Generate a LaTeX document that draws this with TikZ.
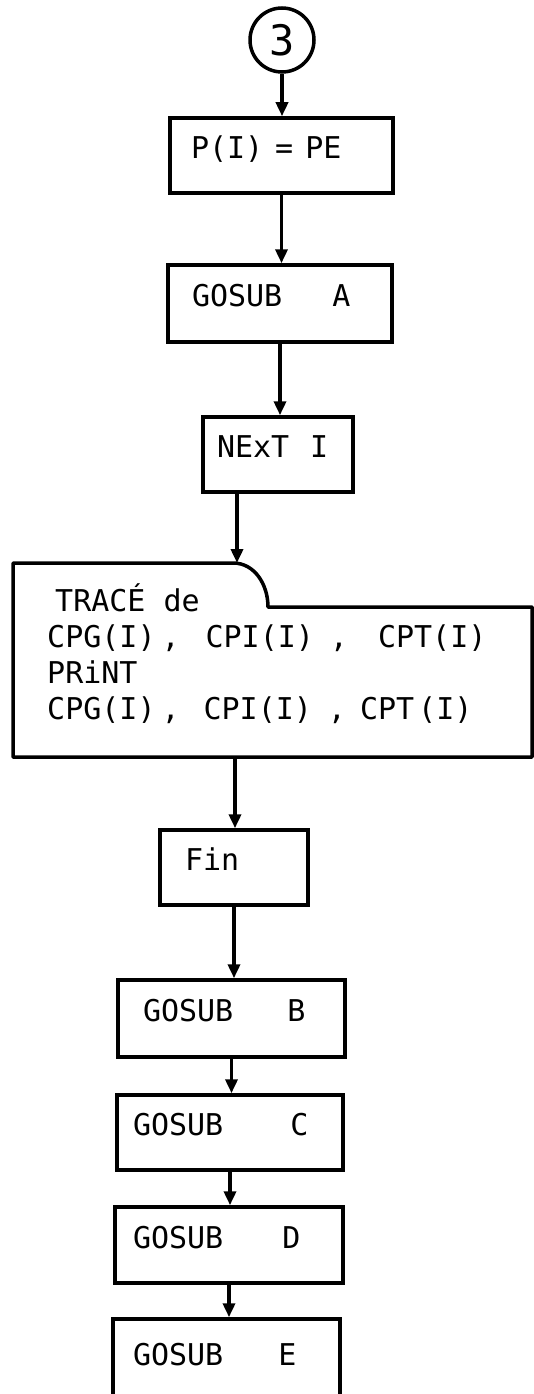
\documentclass[tikz,border=0pt]{standalone}
\usepackage{fontspec}
\newfontfamily\hand{DejaVu Sans Mono}
\usetikzlibrary{arrows.meta,calc}
\tikzset{
  box/.style={draw, line width=3.5pt, minimum height=75pt, align=left,
    text height=22pt, text depth=16pt, font={\hand\fontsize{30}{36}\selectfont}},
  arr/.style={line width=3.5pt, -{Triangle[length=14pt,width=12pt]}},
  conn/.style={draw, circle, line width=3.5pt, minimum size=64pt, inner sep=0pt,
    font={\hand\fontsize{42}{48}\selectfont}},
  outline/.style={line width=3.5pt, line join=round},
  multi/.style={anchor=north west, align=left, inner sep=0pt,
    font={\hand\fontsize{30}{36}\selectfont}}
}
\begin{document}
\begin{tikzpicture}[x=1pt, y=-1pt]
\clip (0,0) rectangle (534,1394);
\fill[white] (0,0) rectangle (534,1394);

\node[conn] (c3) at (282,40) {3};
\node[box, minimum width=223pt, text width=181pt, inner xsep=21pt, minimum height=75pt] (pe) at (281.5,155.5) {P(I)\hspace{12pt}=\hspace{12pt}PE};
\node[box, minimum width=224pt, text width=176pt, inner xsep=24pt, minimum height=77pt] (ga) at (280,303.5) {GOSUB\hspace{50pt}A};
\node[box, minimum width=150pt, text width=122pt, inner xsep=14pt, minimum height=75pt] (ni) at (278,454.5) {NExT\hspace{21pt}I};

% big display box with notch
\coordinate (bigin) at (237,563);
\coordinate (bigout) at (235,757);
\draw[outline] (13,563) -- (233,563) .. controls (255,563) and (268,585) .. (268,607)
  -- (532,607) -- (532,757) -- (13,757) -- cycle;
\node[multi] (trace) at (47,583) {\hspace*{8pt}TRACÉ de\\
CPG(I)\hspace{6pt},\hspace{26pt}CPI(I)\hspace{16pt},\hspace{30pt}CPT(I)\\
PRiNT\\
CPG(I)\hspace{6pt},\hspace{24pt}CPI(I)\hspace{16pt},\hspace{14pt}CPT\hspace{4pt}(I)};

\node[box, minimum width=148pt, text width=98pt, inner xsep=25pt, minimum height=75pt] (fin) at (234,867.5) {Fin};
\node[box, minimum width=227pt, text width=177pt, inner xsep=25pt, minimum height=77pt] (gb) at (231.5,1018.5) {GOSUB\hspace{54pt}B};
\node[box, minimum width=226pt, text width=194pt, inner xsep=16pt, minimum height=75pt] (gc) at (230,1132.5) {GOSUB\hspace{67pt}C};
\node[box, minimum width=228pt, text width=192pt, inner xsep=18pt, minimum height=76pt] (gd) at (229,1245) {GOSUB\hspace{59pt}D};
\node[box, minimum width=227pt, text width=187pt, inner xsep=20pt, minimum height=86pt] (ge) at (226.5,1362) {GOSUB\hspace{55pt}E};

\draw[arr] (c3.south) -- (c3.south |- pe.north);
\draw[arr] (pe.south) -- (pe.south |- ga.north);
\draw[arr] (ga.south) -- (ga.south |- ni.north);
\draw[arr] (ni.south -| bigin) -- (bigin);
\draw[arr] (bigout) -- (bigout |- fin.north);
\draw[arr] (fin.south) -- (fin.south |- gb.north);
\draw[arr] (gb.south) -- (gb.south |- gc.north);
\draw[arr] (gc.south) -- (gc.south |- gd.north);
\draw[arr] (gd.south) -- (gd.south |- ge.north);
\end{tikzpicture}
\end{document}
